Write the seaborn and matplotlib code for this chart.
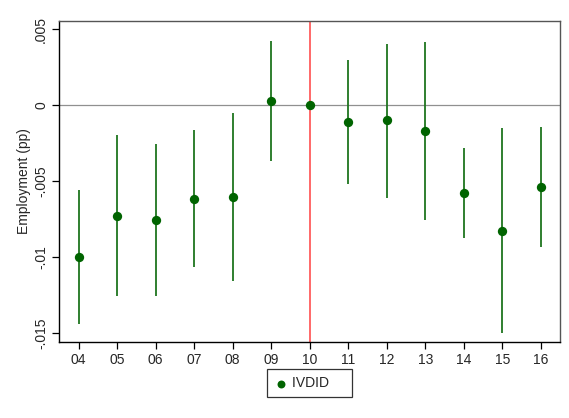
import matplotlib
matplotlib.use("Agg")
import matplotlib.pyplot as plt
import seaborn as sns
import pandas as pd

years = ["04", "05", "06", "07", "08", "09", "10", "11", "12", "13", "14", "15", "16"]
coef = [-0.0100, -0.00728, -0.00755, -0.00614, -0.00601, 0.00028, 0.0, -0.0011, -0.00099, -0.00167, -0.00575, -0.00825, -0.0054]
ci_hi = [-0.00557, -0.00195, -0.00255, -0.00162, -0.00053, 0.00421, 0.0, 0.00298, 0.00403, 0.00416, -0.00281, -0.00151, -0.00145]
ci_lo = [-0.01441, -0.01255, -0.01253, -0.01066, -0.01156, -0.00364, 0.0, -0.0052, -0.00608, -0.00755, -0.00871, -0.01496, -0.00934]
yticks = [0.005, 0, -0.005, -0.01, -0.015]
ytick_labels = [".005", "0", "-.005", "-.01", "-.015"]

df = pd.DataFrame({"pos": [int(y) for y in years], "coef": coef, "lo": ci_lo, "hi": ci_hi})

sns.set_style("white")
plt.rcParams["font.family"] = ["Liberation Sans", "DejaVu Sans"]

fig = plt.figure(figsize=(5.69, 4.18), dpi=100)
ax = fig.add_axes([0.1042, 0.1818, 0.88, 0.7687])

green = "#006400"
ax.axhline(0, color="#909090", lw=0.9, zorder=1)
ax.axvline(10, color="#ff4040", lw=1.1, zorder=1)
ax.vlines(df["pos"], df["lo"], df["hi"], color="#1f751f", lw=1.3, zorder=2)
sns.scatterplot(data=df, x="pos", y="coef", ax=ax, color=green, s=45,
                edgecolor=green, linewidth=0, zorder=3, label="IVDID    ")

ax.set_xlim(3.5, 16.5)
ax.set_ylim(-0.01557, 0.00557)
ax.set_xticks(df["pos"])
ax.set_xticklabels(years, fontsize=10)
ax.set_yticks(yticks)
ax.set_yticklabels(ytick_labels, fontsize=10, rotation=90, va="center")
ax.set_xlabel("")
ax.set_ylabel("Employment (pp)", fontsize=10)
ax.yaxis.set_label_coords(-0.056, 0.5)
ax.tick_params(axis="both", direction="out", length=5, width=0.9, color="black", left=True, bottom=True)
ax.tick_params(axis="y", pad=3)
ax.tick_params(axis="x", pad=3)

for side in ["left", "bottom"]:
    ax.spines[side].set_color("black")
    ax.spines[side].set_linewidth(1.0)
for side in ["top", "right"]:
    ax.spines[side].set_color("#555555")
    ax.spines[side].set_linewidth(1.0)

leg = ax.legend(loc="upper center", bbox_to_anchor=(0.5, -0.085), frameon=True,
                fancybox=False, edgecolor="black", fontsize=10, handletextpad=0.3,
                handlelength=1.0, borderpad=0.5, borderaxespad=0.0, markerscale=0.85)
leg.get_frame().set_linewidth(0.9)

fig.savefig("out.png", dpi=100, facecolor="white")
